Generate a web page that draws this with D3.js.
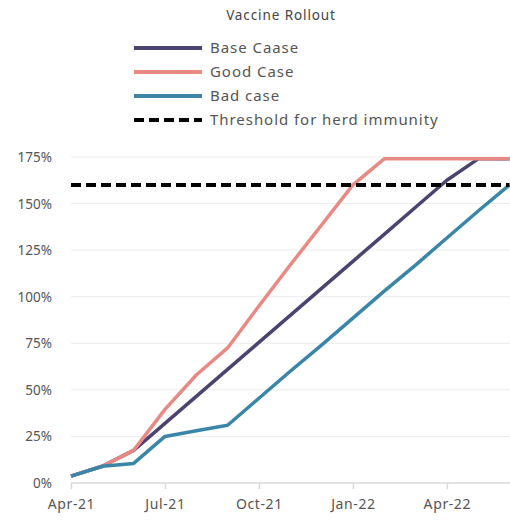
<!DOCTYPE html>
<html><head><meta charset="utf-8">
<script src="https://cdn.jsdelivr.net/npm/d3@7"></script>
<style>body{margin:0;background:#fff}svg{display:block}text{font-family:"Noto Sans",sans-serif}</style>
</head><body><svg id="c" width="510" height="521"></svg>
<script>
const months = ["Apr-21","May-21","Jun-21","Jul-21","Aug-21","Sep-21","Oct-21","Nov-21","Dec-21","Jan-22","Feb-22","Mar-22","Apr-22","May-22","Jun-22"];
const baseCase = [3.7, 9, 17.5, 32, 46.5, 61, 75.5, 90, 104.5, 119, 133.5, 148, 162.5, 174, 174];
const goodCase = [3.7, 9, 17.5, 39.5, 58, 72.5, 95, 117, 138.5, 160, 174, 174, 174, 174, 174];
const badCase  = [3.7, 9, 10.5, 25, 28, 31, 45.5, 60, 74, 88.5, 103, 117, 131.5, 146, 160];
const threshold = [160, 160, 160, 160, 160, 160, 160, 160, 160, 160, 160, 160, 160, 160, 160];
const yTicks = [0, 25, 50, 75, 100, 125, 150, 175];
const xTickLabels = ["Apr-21","Jul-21","Oct-21","Jan-22","Apr-22"];
const seriesNames = ["Base Caase","Good Case","Bad case","Threshold for herd immunity"];
const colors = ["#4b4470","#e88984","#3a86a8","#000000"];

const svg = d3.select("#c");
const x = d3.scalePoint().domain(months).range([71, 509.5]);
const y = d3.scaleLinear().domain([0, 175]).range([483, 157]);

// title
svg.append("text").attr("x", 281).attr("y", 20).attr("text-anchor","middle")
  .attr("font-size", 13.5).attr("letter-spacing", 0.9).attr("fill","#444").text("Vaccine Rollout");

// legend
const lg = svg.append("g");
seriesNames.forEach((n,i)=>{
  const yy = 48 + i*24;
  lg.append("line").attr("x1",134).attr("x2",202).attr("y1",yy).attr("y2",yy)
    .attr("stroke",colors[i]).attr("stroke-width",4)
    .attr("stroke-dasharray", i===3 ? "10,5" : null);
  lg.append("text").attr("x",210).attr("y",yy+5).attr("font-size",15).attr("letter-spacing",0.95)
    .attr("fill","#555").text(n);
});

// grid
svg.append("g").selectAll("line").data(yTicks.filter(d=>d>0)).join("line")
  .attr("x1",71).attr("x2",510).attr("y1",d=>y(d)).attr("y2",d=>y(d))
  .attr("stroke","#ececec").attr("stroke-width",1);

// y labels
svg.append("g").selectAll("text").data(yTicks).join("text")
  .attr("x",52).attr("y",d=>y(d)+5).attr("text-anchor","end")
  .attr("font-size",13.5).attr("fill","#555").text(d=>d+"%");

// x axis
const xa = svg.append("g").attr("transform","translate(0,483)")
  .call(d3.axisBottom(x).tickValues(xTickLabels).tickSize(6).tickPadding(10));
xa.select(".domain").attr("stroke","#d9d9d9").attr("stroke-width",1.5).attr("d","M71,0H510");
xa.selectAll(".tick line").attr("stroke","#d9d9d9").attr("stroke-width",1.5);
xa.selectAll(".tick text").attr("font-size",14).attr("letter-spacing",0.6).attr("fill","#555").attr("font-family","Noto Sans");

// lines
const line = d3.line().x((d,i)=>x(months[i])).y(d=>y(d));
[baseCase, goodCase, badCase].forEach((s,i)=>{
  svg.append("path").datum(s).attr("d",line).attr("fill","none")
    .attr("stroke",colors[i]).attr("stroke-width",3.5).attr("stroke-linejoin","round");
});
svg.append("path").datum(threshold).attr("d",line).attr("fill","none")
  .attr("stroke","#000").attr("stroke-width",4).attr("stroke-dasharray","10,5");
</script></body></html>
